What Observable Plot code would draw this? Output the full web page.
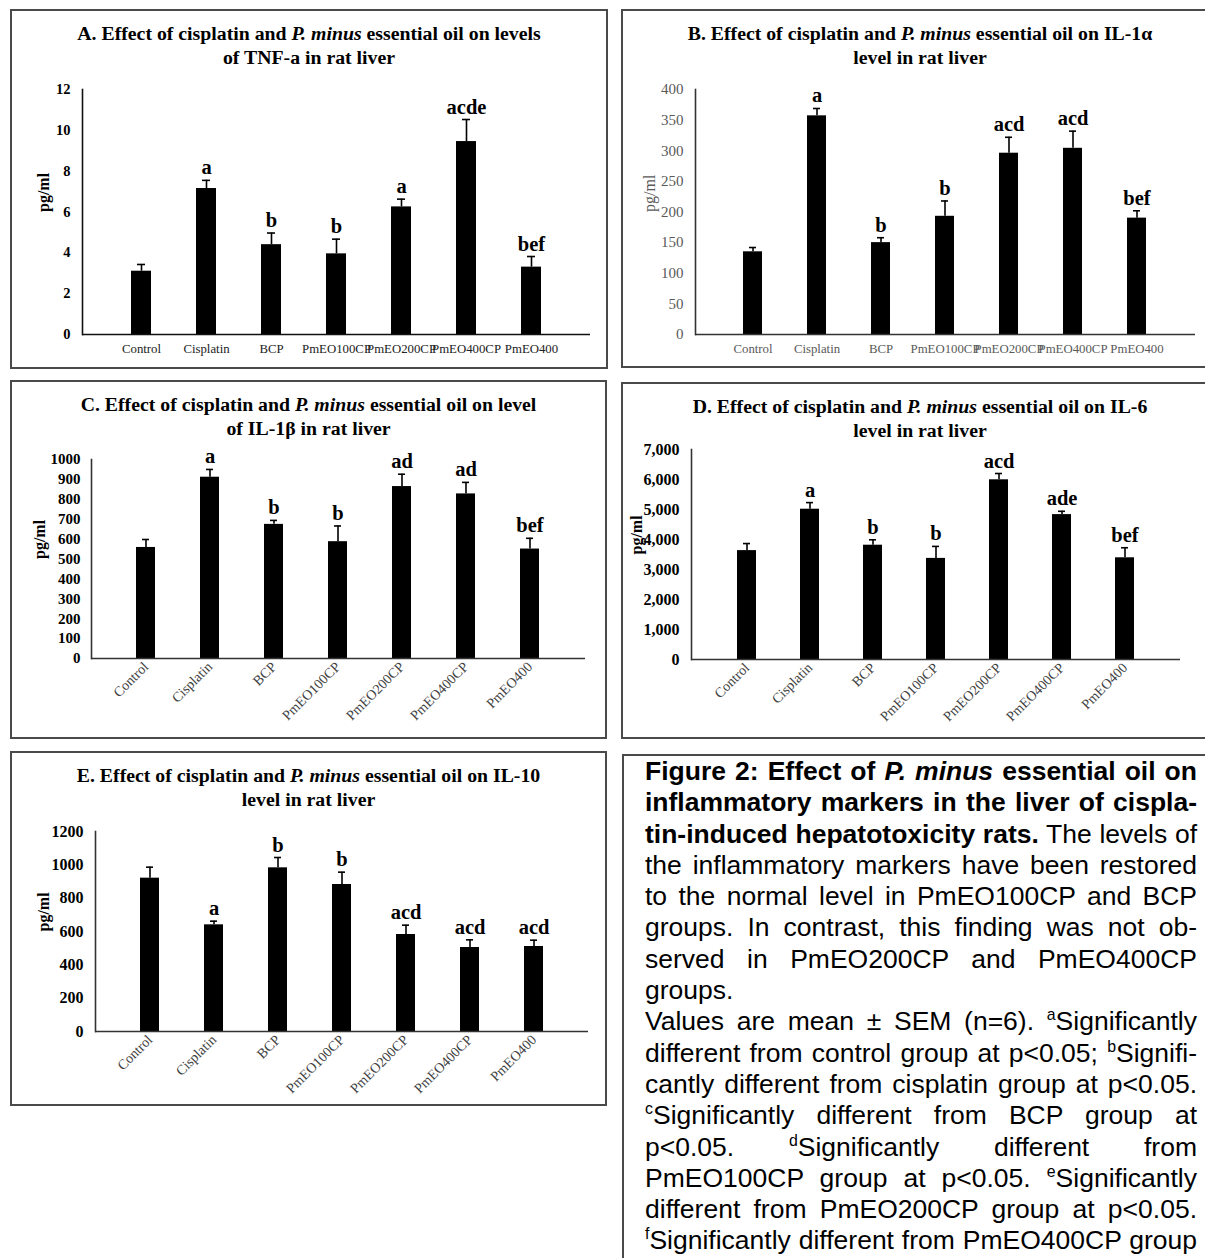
<!DOCTYPE html>
<html><head><meta charset="utf-8">
<script src="https://cdn.jsdelivr.net/npm/d3@7"></script>
<script src="https://cdn.jsdelivr.net/npm/@observablehq/plot@0.6"></script>
<style>
html,body{margin:0;padding:0;background:#fff;overflow:hidden;}
#page{position:relative;width:1205px;height:1258px;overflow:hidden;background:#fff;}
.box{position:absolute;box-sizing:border-box;border:2px solid #4a4a4a;}
.title{position:absolute;left:0;right:0;top:10px;text-align:center;font-family:"Liberation Serif","Times New Roman",serif;font-weight:bold;font-size:19.8px;line-height:24px;color:#000;}
.plotwrap{position:absolute;}
#caption{position:absolute;left:645px;top:756px;width:552px;font-family:"Liberation Sans",Arial,sans-serif;font-size:26.5px;line-height:31.3px;color:#000;}
#caption .ln{text-align:justify;text-align-last:justify;height:31.3px;}
#caption .ln.left{text-align-last:left;}
sup{font-size:0.6em;line-height:0;vertical-align:0.62em;}
</style>
</head><body><div id="page"></div>
<script>
const groups = ["Control","Cisplatin","BCP","PmEO100CP","PmEO200CP","PmEO400CP","PmEO400"];

const tnfMean = [3.10, 7.15, 4.40, 3.95, 6.25, 9.45, 3.30];
const tnfSem  = [0.33, 0.40, 0.57, 0.72, 0.38, 1.08, 0.52];
const tnfSig  = ["", "a", "b", "b", "a", "acde", "bef"];
const tnfTicks = [0, 2, 4, 6, 8, 10, 12];

const il1aMean = [135, 357, 150, 193, 296, 304, 190];
const il1aSem  = [7, 12, 8, 25, 26, 28, 12];
const il1aSig  = ["", "a", "b", "b", "acd", "acd", "bef"];
const il1aTicks = [0, 50, 100, 150, 200, 250, 300, 350, 400];

const il1bMean = [558, 911, 674, 587, 864, 827, 550];
const il1bSem  = [40, 39, 20, 79, 62, 58, 54];
const il1bSig  = ["", "a", "b", "b", "ad", "ad", "bef"];
const il1bTicks = [0, 100, 200, 300, 400, 500, 600, 700, 800, 900, 1000];

const il6Mean = [3630, 5010, 3810, 3370, 5990, 4830, 3390];
const il6Sem  = [235, 220, 180, 400, 210, 110, 335];
const il6Sig  = ["", "a", "b", "b", "acd", "ade", "bef"];
const il6Ticks = [0, 1000, 2000, 3000, 4000, 5000, 6000, 7000];

const il10Mean = [920, 640, 982, 882, 582, 504, 510];
const il10Sem  = [66, 22, 62, 74, 56, 46, 38];
const il10Sig  = ["", "a", "b", "b", "acd", "acd", "acd"];
const il10Ticks = [0, 200, 400, 600, 800, 1000, 1200];

const yLabel = "pg/ml";

const serif = '"Liberation Serif","Times New Roman",serif';
const page = document.getElementById("page");

function addBox(b, titleHtml) {
  const d = document.createElement("div");
  d.className = "box";
  Object.assign(d.style, {left: b.x + "px", top: b.y + "px", width: b.w + "px", height: b.h + "px"});
  const t = document.createElement("div");
  t.className = "title";
  t.innerHTML = titleHtml;
  d.appendChild(t);
  page.appendChild(d);
}

function addPanel(cfg) {
  const data = groups.map((g, i) => ({group: g, mean: cfg.mean[i], top: cfg.mean[i] + cfg.sem[i], sig: cfg.sig[i]}));
  const s = cfg.svg, f = cfg.frame;
  const chart = Plot.plot({
    width: s.w, height: s.h,
    marginLeft: f.x0 - s.x, marginRight: s.x + s.w - f.x1,
    marginTop: f.yTop - s.y, marginBottom: s.y + s.h - f.yZero,
    style: {background: "transparent", overflow: "visible"},
    x: {domain: groups, padding: 0.7, axis: null, label: null},
    y: {domain: [0, cfg.ticks[cfg.ticks.length - 1]], axis: null},
    marks: [
      Plot.barY(data, {x: "group", y: "mean", fill: "#000"}),
      Plot.ruleX(data, {x: "group", y1: "mean", y2: "top", stroke: "#000", strokeWidth: 1.6}),
      Plot.tickY(data, {x: "group", y: "top", stroke: "#000", strokeWidth: 1.6, insetLeft: 6, insetRight: 6}),
      Plot.text(data, {x: "group", y: "top", text: "sig", dy: -6, lineAnchor: "bottom", fontSize: 20.5, fontWeight: "bold", fontFamily: serif, fill: "#000"}),
      Plot.ruleY([0], {stroke: cfg.axisColor, strokeWidth: 1.6}),
      Plot.frame({anchor: "left", stroke: cfg.axisColor, strokeWidth: 1.6}),
      Plot.axisY({ticks: cfg.ticks, tickSize: 0, tickPadding: cfg.yPad, tickFormat: cfg.fmt, fontSize: cfg.yFont, fontWeight: cfg.yWeight, fontFamily: serif, fill: cfg.tickColor, label: null}),
      Plot.axisX({tickSize: 0, tickPadding: cfg.xPad, tickRotate: cfg.rotate, fontSize: cfg.xFont, fontFamily: serif, fill: cfg.xColor, label: null}),
      Plot.text([yLabel], {text: d => d, frameAnchor: "left", dx: cfg.labelX - f.x0, rotate: -90, fontSize: 16, fontWeight: cfg.labelWeight, fontFamily: serif, fill: cfg.labelColor})
    ]
  });
  const w = document.createElement("div");
  w.className = "plotwrap";
  Object.assign(w.style, {left: s.x + "px", top: s.y + "px", width: s.w + "px", height: s.h + "px"});
  w.appendChild(chart);
  page.appendChild(w);
}

const plain = d => String(d);
const comma = d3.format(",");

// Panel A
addBox({x: 10, y: 9, w: 598, h: 360}, 'A. Effect of cisplatin and <i>P. minus</i> essential oil on levels<br>of TNF-a in rat liver');
addPanel({mean: tnfMean, sem: tnfSem, sig: tnfSig, ticks: tnfTicks, fmt: plain,
  svg: {x: 13, y: 70, w: 592, h: 296}, frame: {x0: 82, x1: 590, yTop: 89, yZero: 334},
  axisColor: "#111", tickColor: "#000", yWeight: "bold", yFont: 14.5, yPad: 12,
  xColor: "#222", xFont: 12.8, xPad: 9, rotate: 0, labelX: 43, labelWeight: "bold", labelColor: "#000"});

// Panel B
addBox({x: 621, y: 9, w: 598, h: 359}, 'B. Effect of cisplatin and <i>P. minus</i> essential oil on IL-1α<br>level in rat liver');
addPanel({mean: il1aMean, sem: il1aSem, sig: il1aSig, ticks: il1aTicks, fmt: plain,
  svg: {x: 624, y: 70, w: 581, h: 296}, frame: {x0: 695, x1: 1195, yTop: 89, yZero: 334},
  axisColor: "#333", tickColor: "#595959", yWeight: "normal", yFont: 15, yPad: 12,
  xColor: "#595959", xFont: 12.8, xPad: 9, rotate: 0, labelX: 649, labelWeight: "normal", labelColor: "#595959"});

// Panel C
addBox({x: 10, y: 380, w: 597, h: 359}, 'C. Effect of cisplatin and <i>P. minus</i> essential oil on level<br>of IL-1β in rat liver');
addPanel({mean: il1bMean, sem: il1bSem, sig: il1bSig, ticks: il1bTicks, fmt: plain,
  svg: {x: 13, y: 440, w: 592, h: 296}, frame: {x0: 91, x1: 585, yTop: 459, yZero: 658},
  axisColor: "#333", tickColor: "#000", yWeight: "bold", yFont: 15, yPad: 11,
  xColor: "#404040", xFont: 14, xPad: 6, rotate: -45, labelX: 39, labelWeight: "bold", labelColor: "#000"});

// Panel D
addBox({x: 621, y: 382, w: 598, h: 357}, 'D. Effect of cisplatin and <i>P. minus</i> essential oil on IL-6<br>level in rat liver');
addPanel({mean: il6Mean, sem: il6Sem, sig: il6Sig, ticks: il6Ticks, fmt: comma,
  svg: {x: 624, y: 440, w: 581, h: 296}, frame: {x0: 691, x1: 1180, yTop: 449, yZero: 659},
  axisColor: "#333", tickColor: "#000", yWeight: "bold", yFont: 16, yPad: 12,
  xColor: "#404040", xFont: 14, xPad: 6, rotate: -45, labelX: 636, labelWeight: "bold", labelColor: "#000"});

// Panel E
addBox({x: 10, y: 751, w: 597, h: 355}, 'E. Effect of cisplatin and <i>P. minus</i> essential oil on IL-10<br>level in rat liver');
addPanel({mean: il10Mean, sem: il10Sem, sig: il10Sig, ticks: il10Ticks, fmt: plain,
  svg: {x: 13, y: 810, w: 592, h: 294}, frame: {x0: 95, x1: 588, yTop: 831, yZero: 1031},
  axisColor: "#333", tickColor: "#000", yWeight: "bold", yFont: 16, yPad: 12,
  xColor: "#404040", xFont: 14, xPad: 6, rotate: -45, labelX: 43, labelWeight: "bold", labelColor: "#000"});

// Caption box
const cb = document.createElement("div");
cb.className = "box";
Object.assign(cb.style, {left: "622px", top: "754px", width: "600px", height: "520px"});
page.appendChild(cb);

const captionLines = [
  ['<b>Figure 2: Effect of <i>P. minus</i> essential oil on</b>', ''],
  ['<b>inflammatory markers in the liver of cispla-</b>', ''],
  ['<b>tin-induced hepatotoxicity rats.</b> The levels of', ''],
  ['the inflammatory markers have been restored', ''],
  ['to the normal level in PmEO100CP and BCP', ''],
  ['groups. In contrast, this finding was not ob-', ''],
  ['served in PmEO200CP and PmEO400CP', ''],
  ['groups.', 'left'],
  ['Values are mean ± SEM (n=6). <sup>a</sup>Significantly', ''],
  ['different from control group at p&lt;0.05; <sup>b</sup>Signifi-', ''],
  ['cantly different from cisplatin group at p&lt;0.05.', ''],
  ['<sup>c</sup>Significantly different from BCP group at', ''],
  ['p&lt;0.05. <sup>d</sup>Significantly different from', ''],
  ['PmEO100CP group at p&lt;0.05. <sup>e</sup>Significantly', ''],
  ['different from PmEO200CP group at p&lt;0.05.', ''],
  ['<sup>f</sup>Significantly different from PmEO400CP group', '']
];
const cap = document.createElement("div");
cap.id = "caption";
cap.innerHTML = captionLines.map(([h, c]) => `<div class="ln ${c}">${h}</div>`).join("");
page.appendChild(cap);
</script>
</body></html>
